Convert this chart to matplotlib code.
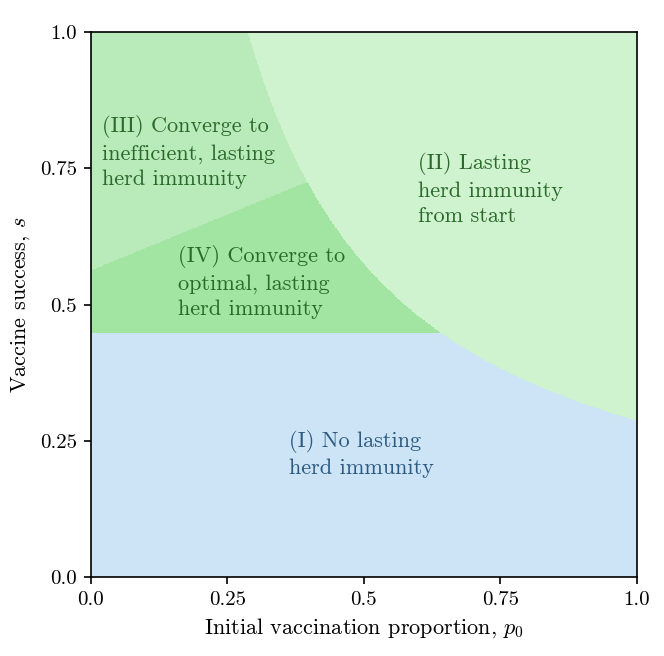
import numpy as np
import matplotlib
matplotlib.use("Agg")
import matplotlib.pyplot as plt
from matplotlib.colors import ListedColormap

plt.rcParams['font.family'] = 'serif'
plt.rcParams['font.serif'] = ['cmr10']
plt.rcParams['mathtext.fontset'] = 'cm'
plt.rcParams['axes.unicode_minus'] = False
plt.rcParams['axes.formatter.use_mathtext'] = True

# region boundaries
c_curve = 0.2875      # s * p0 = c  (lasting herd immunity from start)
s_min = 0.448         # horizontal threshold
line_a = 0.563        # III / IV boundary intercept
line_b = 0.41         # III / IV boundary slope

region_colors = ['#cce4f6', '#cff2cf', '#b9eab9', '#a2e4a2']  # I, II, III, IV
text_green = '#2a6a2a'
text_blue = '#2c5a82'

ticks = [0.0, 0.25, 0.5, 0.75, 1.0]
tick_labels = ['0.0', '0.25', '0.5', '0.75', '1.0']

p = np.linspace(0, 1, 800)
s = np.linspace(0, 1, 800)
P, S = np.meshgrid(p, s)
reg = np.zeros_like(P)
reg[P * S >= c_curve] = 1
below = (P * S < c_curve) & (S >= s_min)
reg[below & (S > line_a + line_b * P)] = 2
reg[below & (S <= line_a + line_b * P)] = 3

fig = plt.figure(figsize=(6.64, 6.56), dpi=100)
ax = fig.add_axes([0.137, 0.12, 0.822, 0.831])
ax.pcolormesh(P, S, reg, cmap=ListedColormap(region_colors), vmin=-0.5, vmax=3.5,
              shading='auto', rasterized=True)

fs = 16
ls = 1.38
ax.text(0.02, 0.78, "(III) Converge to\ninefficient, lasting\nherd immunity",
        color=text_green, fontsize=fs, va='center', ha='left', linespacing=ls)
ax.text(0.6, 0.712, "(II) Lasting\nherd immunity\nfrom start",
        color=text_green, fontsize=fs, va='center', ha='left', linespacing=ls)
ax.text(0.16, 0.541, "(IV) Converge to\noptimal, lasting\nherd immunity",
        color=text_green, fontsize=fs, va='center', ha='left', linespacing=ls)
ax.text(0.363, 0.226, "(I) No lasting\nherd immunity",
        color=text_blue, fontsize=fs, va='center', ha='left', linespacing=ls)

ax.set_xlim(0, 1)
ax.set_ylim(0, 1)
ax.set_xticks(ticks)
ax.set_xticklabels(tick_labels)
ax.set_yticks(ticks)
ax.set_yticklabels(tick_labels)
ax.tick_params(labelsize=15, length=5, width=1.2, pad=5)
for sp in ax.spines.values():
    sp.set_linewidth(1.2)
ax.set_xlabel(r"Initial vaccination proportion, $p_0$", fontsize=16, labelpad=5)
ax.set_ylabel(r"Vaccine success, $s$", fontsize=16, labelpad=6)

fig.savefig("out.png", dpi=100)
